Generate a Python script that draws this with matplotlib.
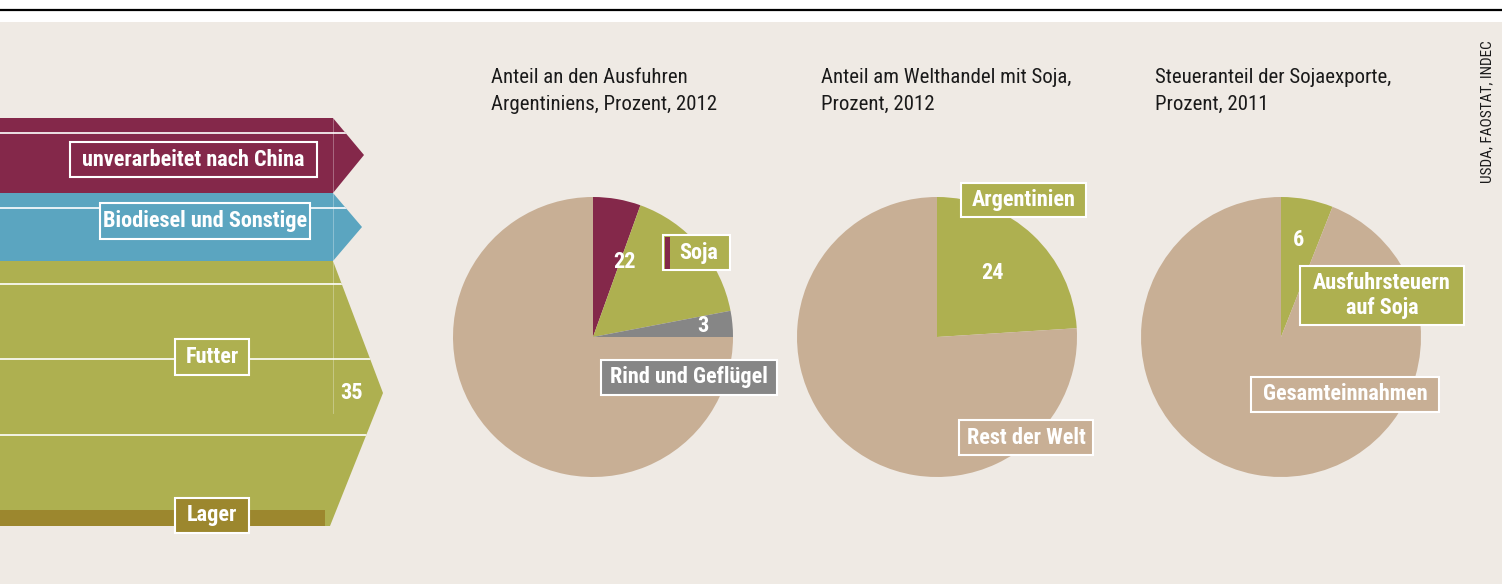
import matplotlib.pyplot as plt
from matplotlib.patches import Polygon, Rectangle

# colours
BG = '#efeae4'
MAROON = '#84284a'
BLUE = '#5ba5c0'
GREEN = '#aeb050'
OLIVE = '#9c872e'
GRAY = '#868686'
TAN = '#c8af95'

# pie data (percent)
exports_labels = ['Soja unverarbeitet', 'Soja verarbeitet', 'Rind und Geflügel', 'Rest']
exports_values = [5.5, 16.5, 3, 75]
trade_labels = ['Argentinien', 'Rest der Welt']
trade_values = [24, 76]
tax_labels = ['Ausfuhrsteuern auf Soja', 'Gesamteinnahmen']
tax_values = [6, 94]

pie_titles = ['Anteil an den Ausfuhren\nArgentiniens, Prozent, 2012',
              'Anteil am Welthandel mit Soja,\nProzent, 2012',
              'Steueranteil der Sojaexporte,\nProzent, 2011']

# flow bands
band_labels = ['unverarbeitet nach China', 'Biodiesel und Sonstige', 'Futter', 'Lager']
futter_value = 35

W, H = 1502, 584
FONT = ['Roboto Condensed', 'DejaVu Sans Condensed', 'Liberation Sans Narrow', 'Roboto', 'DejaVu Sans']
LBL = 16


def P(x, y):
    return (x, H - y)


fig = plt.figure(figsize=(W / 100, H / 100), dpi=100)
fig.patch.set_facecolor('white')
ax = fig.add_axes([0, 0, 1, 1])

# background
ax.add_patch(Rectangle(P(0, H), W, H - 22, facecolor=BG, edgecolor='none', zorder=0))
ax.plot([0, W], [H - 9.5, H - 9.5], color='black', lw=1.6, zorder=1)

# flow bands (arrows)
maroon = Polygon([P(0, 118), P(333, 118), P(364, 155), P(333, 193), P(0, 193)],
                 closed=True, facecolor=MAROON, edgecolor='none', zorder=2)
blue = Polygon([P(0, 193), P(333, 193), P(362, 227), P(333, 261), P(0, 261)],
               closed=True, facecolor=BLUE, edgecolor='none', zorder=2)
green = Polygon([P(0, 261), P(333, 261), P(383, 393), P(330, 526), P(0, 526)],
                closed=True, facecolor=GREEN, edgecolor='none', zorder=2)
for poly in (maroon, blue, green):
    ax.add_patch(poly)
ax.add_patch(Rectangle(P(0, 526), 325, 16, facecolor=OLIVE, edgecolor='none', zorder=3))

# thin white guide lines inside bands
for y, poly in [(133, maroon), (208, blue), (284, green), (359, green), (435, green)]:
    ln, = ax.plot([0, 400], [H - y, H - y], color='white', lw=1.2, zorder=3)
    ln.set_clip_path(poly)
ax.plot([333, 333], [H - 118, H - 413], color='white', lw=0.6, alpha=0.35, zorder=3)


def box(x0, y0, x1, y1, fc, text, tx=None, ty=None, size=LBL):
    ax.add_patch(Rectangle(P(x0, y1), x1 - x0, y1 - y0, facecolor=fc,
                           edgecolor='white', lw=1.5, zorder=5))
    cx = (x0 + x1) / 2 if tx is None else tx
    cy = (y0 + y1) / 2 if ty is None else ty
    ax.text(*P(cx, cy), text, color='white', fontsize=size, fontweight='bold',
            family=FONT, ha='center', va='center', zorder=6, linespacing=1.15)


box(70, 142, 317, 177, MAROON, band_labels[0])
box(100, 203, 310, 239, BLUE, band_labels[1])
box(175, 339, 249, 375, GREEN, band_labels[2])
box(175, 498, 249, 533, OLIVE, band_labels[3])
ax.text(*P(352, 393), str(futter_value), color='white', fontsize=LBL, fontweight='bold',
        family=FONT, ha='center', va='center', zorder=6)

# pies
R = 140
centres = [(593, 337), (937, 337), (1281, 337)]
pie_sets = [(exports_values, [MAROON, GREEN, GRAY, TAN]),
            (trade_values, [GREEN, TAN]),
            (tax_values, [GREEN, TAN])]
for (cx, cy), (vals, cols) in zip(centres, pie_sets):
    ax.pie(vals, colors=cols, startangle=90, counterclock=False, radius=R,
           center=P(cx, cy), wedgeprops=dict(linewidth=0, zorder=2))

for x, title in zip([491, 821, 1155], pie_titles):
    for k, line in enumerate(title.split('\n')):
        ax.text(*P(x, 83 + 27 * k), line, color='#1a1a1a', fontsize=15, family=FONT,
                ha='left', va='baseline', zorder=6)

# pie labels
small = dict(color='white', fontsize=LBL, fontweight='bold', family=FONT,
             ha='center', va='center', zorder=6)
ax.text(*P(624, 262), str(round(exports_values[0] + exports_values[1])), **small)
ax.text(*P(703, 326), str(exports_values[2]), **small)
box(663, 235, 730, 270, GREEN, 'Soja', tx=699)
ax.add_patch(Rectangle(P(664.5, 268.5), 5, 32, facecolor=MAROON, edgecolor='none', zorder=5.5))
box(601, 360, 777, 395, GRAY, exports_labels[2])

box(961, 183, 1086, 217, GREEN, trade_labels[0])
ax.text(*P(993, 273), str(trade_values[0]), **small)
box(959, 420, 1093, 455, TAN, trade_labels[1])

ax.text(*P(1298, 240), str(tax_values[0]), **small)
box(1300, 266, 1464, 325, GREEN, 'Ausfuhrsteuern\nauf Soja')
box(1251, 377, 1439, 412, TAN, tax_labels[1])

# source
ax.text(*P(1487, 112), 'USDA, FAOSTAT, INDEC', rotation=90, color='#1a1a1a',
        fontsize=11, family=FONT, ha='center', va='center', zorder=6)

ax.set_xlim(0, W)
ax.set_ylim(0, H)
ax.set_aspect('auto')
ax.axis('off')

fig.savefig('out.png', dpi=100, facecolor=fig.get_facecolor())
